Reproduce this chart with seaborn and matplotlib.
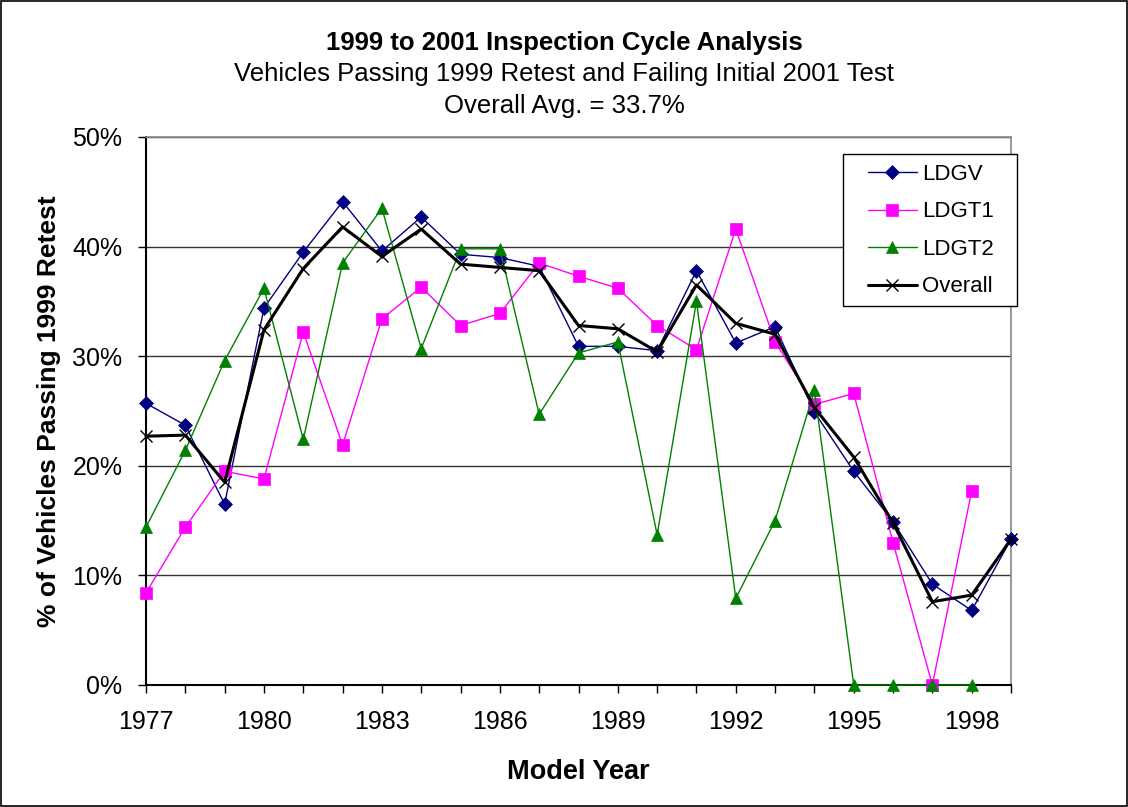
import numpy as np
import pandas as pd
import matplotlib
matplotlib.use("Agg")
import matplotlib.pyplot as plt
import seaborn as sns
from matplotlib.patches import Rectangle
from matplotlib.legend_handler import HandlerLine2D
from matplotlib.ticker import FuncFormatter, MultipleLocator

years = list(range(1977, 2000))
ldgv = [25.7, 23.7, 16.5, 34.4, 39.5, 44.1, 39.6, 42.7, 39.3, 39.0, 38.2, 30.9,
        30.9, 30.5, 37.8, 31.2, 32.7, 24.9, 19.5, 14.9, 9.2, 6.8, 13.3]
ldgt1 = [8.4, 14.4, 19.5, 18.8, 32.2, 21.9, 33.4, 36.3, 32.8, 33.9, 38.5, 37.3,
         36.2, 32.8, 30.6, 41.6, 31.3, 25.6, 26.6, 13.0, 0.0, 17.7, np.nan]
ldgt2 = [14.4, 21.4, 29.6, 36.2, 22.4, 38.5, 43.5, 30.7, 39.8, 39.8, 24.7, 30.3,
         31.3, 13.7, 35.0, 7.9, 15.0, 26.9, 0.0, 0.0, 0.0, 0.0, np.nan]
overall = [22.7, 22.8, 18.5, 32.4, 38.0, 41.8, 39.1, 41.6, 38.4, 38.1, 37.8, 32.8,
           32.5, 30.4, 36.5, 33.0, 32.0, 25.3, 20.8, 14.8, 7.6, 8.2, 13.3]

series = {"LDGV": ldgv, "LDGT1": ldgt1, "LDGT2": ldgt2, "Overall": overall}
styles = {
    "LDGV": dict(color="#000080", marker="D", markersize=7.5, linewidth=1.0),
    "LDGT1": dict(color="#FF00FF", marker="s", markersize=8, linewidth=1.0),
    "LDGT2": dict(color="#008000", marker="^", markersize=9, linewidth=1.0),
    "Overall": dict(color="black", marker="x", markersize=9, linewidth=2.2,
                    markeredgewidth=1.0),
}

sns.set_style("white")
plt.rcParams["font.family"] = ["Liberation Sans", "DejaVu Sans"]
plt.rcParams["text.color"] = "black"
plt.rcParams["axes.labelcolor"] = "black"
plt.rcParams["xtick.color"] = "black"
plt.rcParams["ytick.color"] = "black"

fig = plt.figure(figsize=(11.28, 8.07), dpi=100)
ax = fig.add_axes([146 / 1128, 1 - 685 / 807, (1011 - 146) / 1128, (685 - 137) / 807])

for name, vals in series.items():
    df = pd.DataFrame({"year": years, "value": vals}).dropna()
    st = styles[name]
    sns.lineplot(data=df, x="year", y="value", ax=ax, label=name,
                 color=st["color"], marker=st["marker"], markersize=st["markersize"],
                 linewidth=st["linewidth"], markeredgecolor=st["color"],
                 markeredgewidth=st.get("markeredgewidth", 0.5), clip_on=False,
                 zorder=3 if name != "Overall" else 4)

ax.set_xlim(1977, 1999)
ax.set_ylim(0, 50)
ax.xaxis.set_major_locator(MultipleLocator(3))
ax.xaxis.set_minor_locator(MultipleLocator(1))
ax.yaxis.set_major_locator(MultipleLocator(10))
ax.yaxis.set_major_formatter(FuncFormatter(lambda v, p: f"{v:.0f}%"))
ax.tick_params(axis="both", which="major", direction="out", length=6, width=1,
               labelsize=18, labelcolor="black", color="black",
               bottom=True, left=True)
ax.tick_params(axis="x", which="major", pad=12)
ax.tick_params(axis="y", which="major", pad=11)
ax.tick_params(axis="x", which="minor", direction="out", length=6, width=1,
               color="black", bottom=True)
ax.grid(axis="y", color="#333333", linewidth=1)
ax.set_axisbelow(True)
for s in ["left", "bottom"]:
    ax.spines[s].set_color("black")
    ax.spines[s].set_linewidth(1.5)
for s in ["top", "right"]:
    ax.spines[s].set_color("#888888")
    ax.spines[s].set_linewidth(1.2)

ax.set_xlabel("Model Year", fontsize=19.5, fontweight="bold", labelpad=18)
ax.set_ylabel("% of Vehicles Passing 1999 Retest", fontsize=19,
              fontweight="bold", labelpad=8)

fig.text(0.5, 1 - 50 / 807, "1999 to 2001 Inspection Cycle Analysis",
         ha="center", va="baseline", fontsize=18.5, fontweight="bold")
fig.text(0.5, 1 - 81 / 807, "Vehicles Passing 1999 Retest and Failing Initial 2001 Test",
         ha="center", va="baseline", fontsize=18.5)
fig.text(0.5, 1 - 113 / 807, "Overall Avg. = 33.7%",
         ha="center", va="baseline", fontsize=18.5)

# legend box drawn as a plain rectangle, entries placed inside it
ax.add_patch(Rectangle(((843 - 146) / 865, (685 - 306) / 548), (1017 - 843) / 865,
                       (306 - 154) / 548, transform=ax.transAxes, clip_on=False,
                       facecolor="white", edgecolor="black", linewidth=1.0, zorder=6))
handles, labels = ax.get_legend_handles_labels()
leg = ax.legend(handles, labels, loc="upper left",
                bbox_to_anchor=((868 - 146) / 865, (685 - 164) / 548),
                fontsize=16, frameon=False, borderpad=0, borderaxespad=0,
                handlelength=2.2, handletextpad=0.25, labelspacing=0.74,
                handler_map={h: HandlerLine2D(numpoints=1) for h in handles})
leg.set_zorder(7)

fig.patches.append(Rectangle((0.001, 0.001), 0.998, 0.998, transform=fig.transFigure,
                             fill=False, edgecolor="black", linewidth=1.2))

fig.savefig("out.png", dpi=100)
